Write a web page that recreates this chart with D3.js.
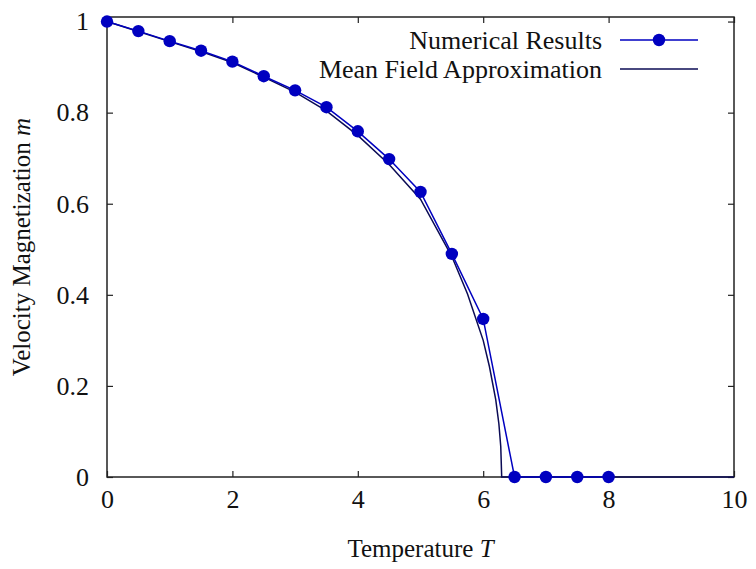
<!DOCTYPE html>
<html>
<head>
<meta charset="utf-8">
<script src="https://cdn.jsdelivr.net/npm/d3@7"></script>
<style>
  body { margin: 0; background: #fff; }
  text { font-family: "Liberation Serif", "DejaVu Serif", serif; fill: #111; }
</style>
</head>
<body>
<svg id="chart"></svg>
<script>
// numerical results
const numT = [0, 0.5, 1, 1.5, 2, 2.5, 3, 3.5, 4, 4.5, 5, 5.5, 6, 6.5, 7, 7.5, 8];
const numM = [1.0, 0.979, 0.957, 0.936, 0.912, 0.880, 0.849, 0.812, 0.759, 0.698, 0.626, 0.490, 0.347, 0, 0, 0, 0];

// mean field curve
const mfT = [0, 0.5, 1, 1.5, 2, 2.5, 3, 3.5, 4, 4.5, 5, 5.5, 5.75, 6, 6.1, 6.2, 6.25, 6.28, 6.295, 10];
const mfM = [1.0, 0.978, 0.956, 0.934, 0.910, 0.878, 0.845, 0.804, 0.750, 0.686, 0.610, 0.484, 0.402, 0.300, 0.242, 0.170, 0.117, 0.067, 0, 0];

const xTicks = [0, 2, 4, 6, 8, 10];
const yTicks = [0, 0.2, 0.4, 0.6, 0.8, 1];

const legendLabels = ["Numerical Results", "Mean Field Approximation"];

const width = 756, height = 569;
const margin = { top: 17, right: 22, bottom: 92, left: 107 };

const svg = d3.select("#chart")
    .attr("width", width)
    .attr("height", height);

const x = d3.scaleLinear().domain([0, 10]).range([margin.left, width - margin.right]);
const y = d3.scaleLinear().domain([0, 1.01]).range([height - margin.bottom, margin.top]);

const numData = numT.map((t, i) => ({ t: t, m: numM[i] }));
const mfData = mfT.map((t, i) => ({ t: t, m: mfM[i] }));

const blue = "#0000c0";
const navy = "#0b0b55";

// axes, ticks pointing inward on every side
const tickLen = 6;
svg.append("g")
    .attr("transform", `translate(0,${y(0)})`)
    .call(d3.axisBottom(x).tickValues(xTicks).tickSizeInner(-tickLen).tickSizeOuter(0).tickPadding(13).tickFormat(d3.format("d")))
    .call(g => g.select(".domain").remove());
svg.append("g")
    .attr("transform", `translate(0,${margin.top})`)
    .call(d3.axisTop(x).tickValues(xTicks).tickSizeInner(-tickLen).tickSizeOuter(0).tickFormat(""))
    .call(g => g.select(".domain").remove());
svg.append("g")
    .attr("transform", `translate(${margin.left},0)`)
    .call(d3.axisLeft(y).tickValues(yTicks).tickSizeInner(-tickLen).tickSizeOuter(0).tickPadding(18).tickFormat(d => d === 0 || d === 1 ? d3.format("d")(d) : d3.format(".1f")(d)))
    .call(g => g.select(".domain").remove());
svg.append("g")
    .attr("transform", `translate(${width - margin.right},0)`)
    .call(d3.axisRight(y).tickValues(yTicks).tickSizeInner(-tickLen).tickSizeOuter(0).tickFormat(""))
    .call(g => g.select(".domain").remove());

svg.selectAll(".tick line").attr("stroke", "#222").attr("stroke-width", 1.2);
svg.selectAll(".tick text").style("font-size", "26px").attr("fill", "#111");

// frame
svg.append("rect")
    .attr("x", x(0)).attr("y", margin.top)
    .attr("width", x(10) - x(0)).attr("height", y(0) - margin.top)
    .attr("fill", "none").attr("stroke", "#222").attr("stroke-width", 1.5);

const line = d3.line().x(d => x(d.t)).y(d => y(d.m));

svg.append("path")
    .datum(mfData)
    .attr("d", line)
    .attr("fill", "none")
    .attr("stroke", navy)
    .attr("stroke-width", 1.5);

svg.append("path")
    .datum(numData)
    .attr("d", line)
    .attr("fill", "none")
    .attr("stroke", blue)
    .attr("stroke-width", 1.5);

svg.append("g")
  .selectAll("circle")
  .data(numData)
  .enter().append("circle")
    .attr("cx", d => x(d.t))
    .attr("cy", d => y(d.m))
    .attr("r", 6.2)
    .attr("fill", blue);

// legend
const legend = svg.append("g");
const rows = [40, 69];
legendLabels.forEach((label, i) => {
  legend.append("text")
      .attr("x", 602).attr("y", rows[i])
      .attr("dy", "0.33em")
      .attr("text-anchor", "end")
      .style("font-size", "26px")
      .text(label);
  legend.append("line")
      .attr("x1", 620).attr("x2", 698)
      .attr("y1", rows[i]).attr("y2", rows[i])
      .attr("stroke", i === 0 ? blue : navy)
      .attr("stroke-width", 1.5);
});
legend.append("circle").attr("cx", 659).attr("cy", rows[0]).attr("r", 6.2).attr("fill", blue);

// axis titles
const xTitle = svg.append("text")
    .attr("x", (x(0) + x(10)) / 2).attr("y", 557)
    .attr("text-anchor", "middle")
    .style("font-size", "25px");
xTitle.append("tspan").text("Temperature ");
xTitle.append("tspan").style("font-style", "italic").text("T");

const yTitle = svg.append("text")
    .attr("transform", `translate(30,${(y(0) + y(1.01)) / 2}) rotate(-90)`)
    .attr("text-anchor", "middle")
    .style("font-size", "25px");
yTitle.append("tspan").text("Velocity Magnetization ");
yTitle.append("tspan").style("font-style", "italic").text("m");
</script>
</body>
</html>
